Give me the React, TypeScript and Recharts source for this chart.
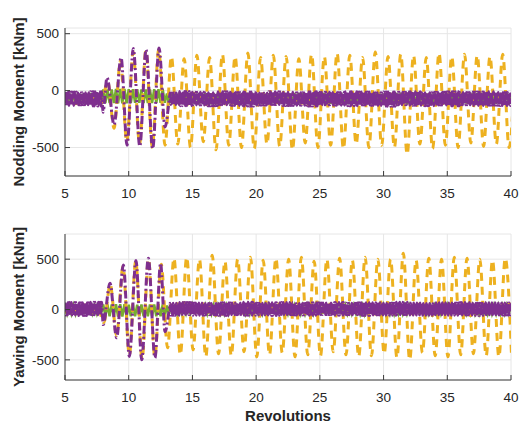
import React from 'react';
import { LineChart, Line, XAxis, YAxis, CartesianGrid } from 'recharts';

// ---------- axes ----------
const X_TICKS = [5, 10, 15, 20, 25, 30, 35, 40];
const Y_TICKS = [-500, 0, 500];
const NOD_DOMAIN: [number, number] = [-750, 550];
const YAW_DOMAIN: [number, number] = [-700, 750];

// ---------- Nodding moment (top) ----------
// orange: one peak and one trough per revolution (rev 5..40)
const NOD_ORANGE_START = -90;
const NOD_ORANGE_PEAK_PHASE = 0.35;
const NOD_ORANGE_TROUGH_PHASE = 0.85;
const nodOrangePeaks = [-45, -50, -40, 80, 260, 340, 350, 360, 300, 280, 310, 290, 320, 300, 330, 290, 310, 300, 280, 320, 300, 330, 310, 290, 340, 300, 320, 310, 290, 330, 300, 320, 310, 300, 320, 300];
const nodOrangeTroughs = [-115, -120, -110, -330, -450, -470, -500, -480, -470, -500, -450, -520, -480, -500, -510, -470, -490, -520, -460, -500, -480, -510, -470, -500, -480, -500, -560, -470, -510, -480, -500, -460, -490, -470, -500];
// purple: large 1P swing between rev 8 and 13
const nodPurpleWaveX = [7.98, 8.3, 8.85, 9.4, 9.87, 10.36, 10.87, 11.36, 11.88, 12.38, 12.85, 13.2];
const nodPurpleWaveY = [-190, 115, -300, 290, -480, 370, -490, 360, -510, 375, -320, -60];
// dense band envelopes, one value per revolution (rev 5..39)
const nodPurpleHi = [-12, -18, -10, -15, -15, -15, -15, -15, -20, -8, -14, -18, -10, -16, -12, -20, -9, -15, -18, -11, -14, -17, -10, -13, -19, -12, -15, -9, -18, -14, -11, -16, -13, -10, -17];
const nodPurpleLo = [-130, -125, -135, -128, -128, -128, -128, -128, -122, -132, -126, -134, -124, -130, -136, -127, -123, -131, -129, -135, -125, -128, -133, -126, -130, -137, -124, -129, -132, -127, -134, -125, -130, -128, -131];
const nodGreenHi = [-25, -30, -20, 10, 14, 12, 10, 12, -25, -20, -28, -22, -26, -24, -20, -27, -23, -25, -21, -28, -24, -22, -26, -25, -23, -27, -20, -24, -26, -22, -25, -28, -21, -24, -23];
const nodGreenLo = [-115, -110, -120, -110, -112, -108, -110, -106, -118, -112, -116, -120, -114, -118, -112, -119, -115, -117, -113, -120, -116, -114, -118, -115, -117, -113, -119, -116, -114, -118, -115, -112, -117, -116, -114];

// ---------- Yawing moment (bottom) ----------
const YAW_ORANGE_TROUGH_PHASE = 0.05;
const YAW_ORANGE_PEAK_PHASE = 0.55;
const yawOrangeTroughs = [-40, -45, -35, -130, -260, -450, -490, -470, -380, -450, -400, -470, -440, -460, -420, -470, -450, -430, -470, -450, -460, -420, -450, -470, -460, -440, -480, -500, -430, -460, -470, -450, -440, -460, -470, -480];
const yawOrangePeaks = [40, 45, 35, 250, 430, 480, 500, 450, 510, 520, 500, 540, 480, 500, 520, 490, 510, 500, 520, 480, 500, 510, 490, 520, 500, 500, 560, 490, 510, 500, 520, 510, 500, 490, 510];
const yawPurpleWaveX = [8.0, 8.53, 9.05, 9.58, 10.05, 10.57, 11.02, 11.54, 12.06, 12.5, 12.85, 13.2];
const yawPurpleWaveY = [-150, 262, -280, 443, -466, 486, -500, 510, -480, 460, -220, 20];
const yawPurpleHi = [70, 66, 72, 68, 68, 68, 68, 68, 62, 70, 65, 60, 68, 64, 71, 63, 66, 69, 61, 67, 64, 70, 62, 66, 68, 63, 71, 65, 60, 67, 64, 69, 62, 66, 65];
const yawPurpleLo = [-55, -60, -52, -55, -55, -55, -55, -55, -58, -50, -56, -53, -59, -51, -57, -54, -60, -52, -55, -58, -50, -56, -53, -59, -54, -57, -51, -55, -58, -52, -56, -54, -59, -53, -55];
const yawGreenHi = [40, 42, 38, 50, 52, 48, 50, 50, 40, 38, 42, 40, 39, 41, 43, 37, 40, 42, 38, 41, 39, 43, 40, 38, 42, 40, 41, 39, 43, 37, 40, 42, 38, 41, 40];
const yawGreenLo = [-40, -42, -38, -68, -70, -66, -68, -68, -42, -38, -40, -41, -39, -43, -37, -40, -42, -38, -41, -39, -43, -40, -38, -42, -40, -41, -39, -43, -37, -40, -42, -38, -41, -40, -39];

const PURPLE_STEP = 1 / 16;
const GREEN_STEP = 1 / 6;

// ---------- colours & styles ----------
const ORANGE = '#EDB120';
const PURPLE = '#7E2F8E';
const GREEN = '#77AC30';
const AX = '#3a3a3a';
const TXT = '#262626';
const GRID = '#e6e6e6';
const FONT = '"Liberation Sans", Arial, Helvetica, sans-serif';

type P = { x: number; y: number };

function band(start: number, end: number, step: number, hi: number[], lo: number[]): P[] {
  const pts: P[] = [];
  for (let i = 0; start + i * step <= end + 1e-9; i++) {
    const x = start + i * step;
    const r = Math.max(0, Math.min(Math.floor(x) - 5, hi.length - 1));
    pts.push({ x, y: i % 2 === 0 ? hi[r] : lo[r] });
  }
  return pts;
}
function wave(xs: number[], ys: number[]): P[] {
  return xs.map((x, i) => ({ x, y: ys[i] }));
}

const nodOrange: P[] = [{ x: 5, y: NOD_ORANGE_START }];
nodOrangePeaks.forEach((p, i) => {
  nodOrange.push({ x: 5 + i + NOD_ORANGE_PEAK_PHASE, y: p });
  if (i < nodOrangeTroughs.length) nodOrange.push({ x: 5 + i + NOD_ORANGE_TROUGH_PHASE, y: nodOrangeTroughs[i] });
});
const yawOrange: P[] = [];
yawOrangeTroughs.forEach((t, i) => {
  yawOrange.push({ x: 5 + i + YAW_ORANGE_TROUGH_PHASE, y: t });
  if (i < yawOrangePeaks.length) yawOrange.push({ x: 5 + i + YAW_ORANGE_PEAK_PHASE, y: yawOrangePeaks[i] });
});
const nodPurple: P[] = [
  ...band(5, 7.9, PURPLE_STEP, nodPurpleHi, nodPurpleLo),
  ...wave(nodPurpleWaveX, nodPurpleWaveY),
  ...band(13.25, 40, PURPLE_STEP, nodPurpleHi, nodPurpleLo),
];
const yawPurple: P[] = [
  ...band(5, 7.95, PURPLE_STEP, yawPurpleHi, yawPurpleLo),
  ...wave(yawPurpleWaveX, yawPurpleWaveY),
  ...band(13.25, 40, PURPLE_STEP, yawPurpleHi, yawPurpleLo),
];
const nodGreen = band(5, 40, GREEN_STEP, nodGreenHi, nodGreenLo);
const yawGreen = band(5, 40, GREEN_STEP, yawGreenHi, yawGreenLo);

const PLOT_LEFT = 65;
const PLOT_RIGHT = 511;
const PLOT_TOP = 28;
const XAXIS_H = 30;

function Panel(props: {
  height: number;
  domain: [number, number];
  orange: P[];
  purple: P[];
  green: P[];
}) {
  const { height, domain, orange, purple, green } = props;
  const plotBottom = height - XAXIS_H;
  const textStyle = { fontFamily: FONT, fontSize: 13.5, fill: TXT };
  return (
    <LineChart width={523} height={height} margin={{ top: PLOT_TOP, right: 12, bottom: 0, left: 0 }}>
      <CartesianGrid xAxisId="b" yAxisId="l" stroke={GRID} strokeWidth={1} />
      <XAxis
        xAxisId="b"
        dataKey="x"
        type="number"
        domain={[5, 40]}
        ticks={X_TICKS}
        interval={0}
        allowDataOverflow
        height={XAXIS_H}
        tickLine={false}
        axisLine={{ stroke: AX }}
        tick={(p: any) => (
          <g>
            <line x1={p.x} x2={p.x} y1={plotBottom} y2={plotBottom - 5} stroke={AX} />
            <text x={p.x} y={plotBottom + 22} textAnchor="middle" style={textStyle}>
              {p.payload.value}
            </text>
          </g>
        )}
      />
      <XAxis
        xAxisId="t"
        orientation="top"
        dataKey="x"
        type="number"
        domain={[5, 40]}
        ticks={X_TICKS}
        interval={0}
        allowDataOverflow
        height={0}
        tickLine={false}
        axisLine={{ stroke: AX }}
        tick={(p: any) => <line x1={p.x} x2={p.x} y1={PLOT_TOP} y2={PLOT_TOP + 5} stroke={AX} />}
      />
      <YAxis
        yAxisId="l"
        type="number"
        domain={domain}
        ticks={Y_TICKS}
        interval={0}
        allowDataOverflow
        width={PLOT_LEFT}
        tickLine={false}
        axisLine={{ stroke: AX }}
        tick={(p: any) => (
          <g>
            <line x1={PLOT_LEFT} x2={PLOT_LEFT + 5} y1={p.y} y2={p.y} stroke={AX} />
            <text x={59} y={p.y} dy="0.35em" textAnchor="end" style={textStyle}>
              {p.payload.value}
            </text>
          </g>
        )}
      />
      <YAxis
        yAxisId="r"
        orientation="right"
        type="number"
        domain={domain}
        ticks={Y_TICKS}
        interval={0}
        allowDataOverflow
        width={0}
        tickLine={false}
        axisLine={{ stroke: AX }}
        tick={(p: any) => <line x1={PLOT_RIGHT} x2={PLOT_RIGHT - 5} y1={p.y} y2={p.y} stroke={AX} />}
      />
      <Line
        xAxisId="b"
        yAxisId="l"
        data={green}
        dataKey="y"
        type="linear"
        stroke={GREEN}
        strokeWidth={2.5}
        dot={false}
        activeDot={false}
        isAnimationActive={false}
      />
      <Line
        xAxisId="b"
        yAxisId="l"
        data={orange}
        dataKey="y"
        type="monotone"
        stroke={ORANGE}
        strokeWidth={3}
        strokeDasharray="8 6"
        dot={false}
        activeDot={false}
        isAnimationActive={false}
      />
      <Line
        xAxisId="b"
        yAxisId="l"
        data={purple}
        dataKey="y"
        type="monotone"
        stroke={PURPLE}
        strokeWidth={3}
        strokeDasharray="8 3 2 3"
        dot={false}
        activeDot={false}
        isAnimationActive={false}
      />
    </LineChart>
  );
}

export default function App() {
  const labelStyle = { fontFamily: FONT, fontSize: 15, fontWeight: 700, fill: TXT };
  return (
    <div style={{ position: 'absolute', left: 0, top: 0, width: 523, height: 426, background: '#fff' }}>
      <div style={{ position: 'absolute', left: 0, top: 0 }}>
        <Panel height={206} domain={NOD_DOMAIN} orange={nodOrange} purple={nodPurple} green={nodGreen} />
      </div>
      <div style={{ position: 'absolute', left: 0, top: 206 }}>
        <Panel height={204} domain={YAW_DOMAIN} orange={yawOrange} purple={yawPurple} green={yawGreen} />
      </div>
      <svg width={523} height={426} style={{ position: 'absolute', left: 0, top: 0, pointerEvents: 'none' }}>
        <text x={24} y={102} transform="rotate(-90 24 102)" textAnchor="middle" style={labelStyle}>
          Nodding Moment [kNm]
        </text>
        <text x={24} y={307} transform="rotate(-90 24 307)" textAnchor="middle" style={labelStyle}>
          Yawing Moment [kNm]
        </text>
        <text x={288} y={421} textAnchor="middle" style={labelStyle}>
          Revolutions
        </text>
      </svg>
    </div>
  );
}
